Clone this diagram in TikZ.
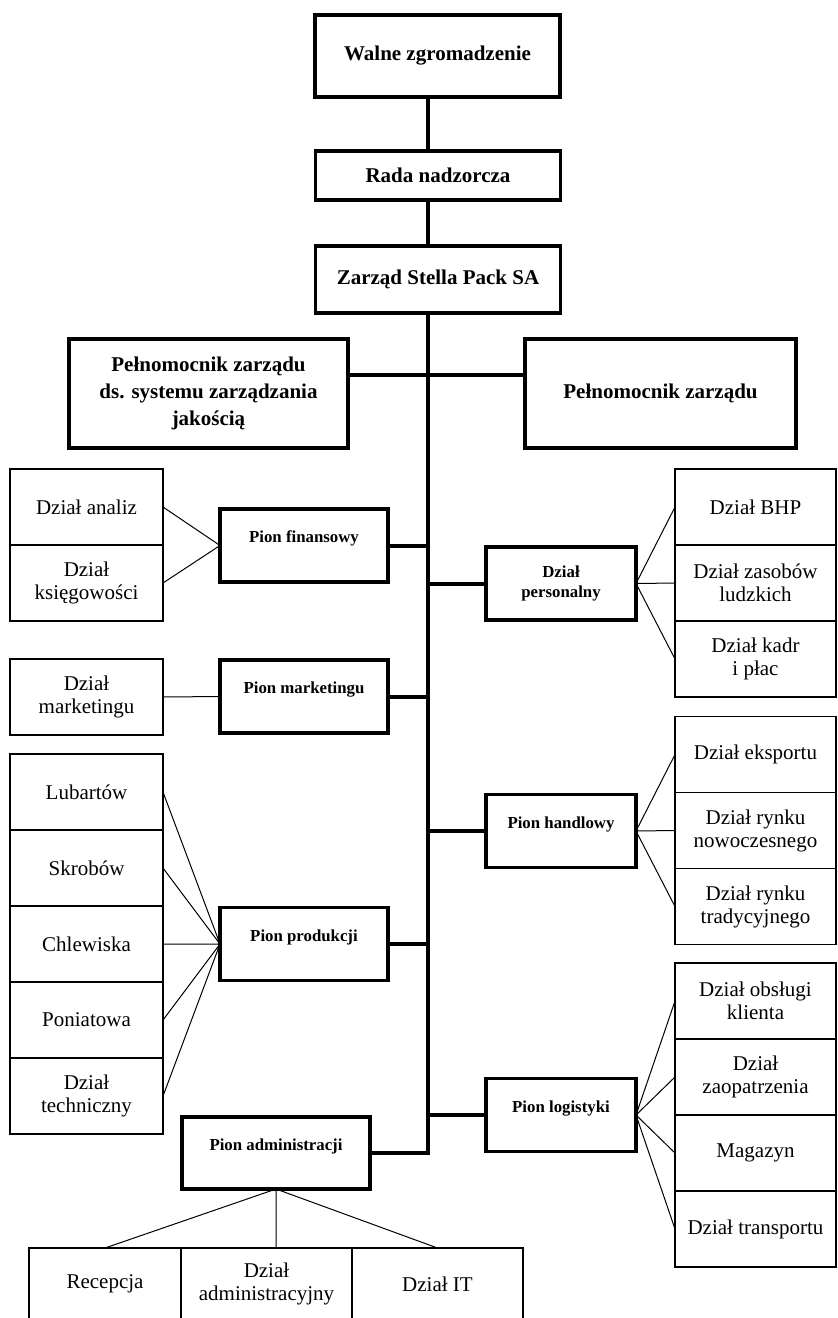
\documentclass[tikz,border=0pt]{standalone}
\usepackage{fontspec}
\setmainfont{Liberation Serif}
\usetikzlibrary{positioning}
\begin{document}
\begin{tikzpicture}[x=1pt,y=-1pt]
\tikzstyle{every node}=[draw,align=center,outer sep=0pt,inner sep=1pt];
\tikzstyle{boss}=[line width=3.8pt,minimum width=245pt,font=\bfseries\fontsize{21}{27}\selectfont];
\tikzstyle{pion}=[line width=3.8pt,minimum width=168pt,minimum height=73pt,font=\bfseries\fontsize{16.8}{20}\selectfont];
\tikzstyle{pionup}=[pion,text depth=17pt];
\tikzstyle{unit}=[line width=1.3pt,minimum width=153pt,minimum height=76pt,font=\fontsize{21}{23}\selectfont];
\tikzstyle{runit}=[unit,minimum width=161pt];
\tikzstyle{bunit}=[unit,minimum height=72pt];
\tikzstyle{spine}=[line width=4pt];
\tikzstyle{twig}=[line width=1pt];
\useasboundingbox (0,0) rectangle (838,1318);

\node[boss,minimum height=82pt] (walne) at (437.5,56) {Walne zgromadzenie};
\node[boss,minimum height=49pt] (rada) at (438,175.5) {Rada nadzorcza};
\node[boss,minimum height=67pt] (zarzad) at (438,279.5) {Zarząd Stella Pack SA};
\node[boss,minimum width=279pt,minimum height=109pt] (pelq) at (208.5,393.5) {Pełnomocnik zarządu\\ds. systemu zarządzania\\jakością};
\node[boss,minimum width=271pt,minimum height=109pt] (pel) at (660.5,393.5) {Pełnomocnik zarządu};

\node[pionup] (pfin) at (304,545.5) {Pion finansowy};
\node[pion,minimum width=150pt] (dpers) at (561,583.5) {Dział\\personalny};
\node[pionup] (pmark) at (304,696.5) {Pion marketingu};
\node[pionup,minimum width=150pt] (phand) at (561,831) {Pion handlowy};
\node[pionup] (pprod) at (304,944) {Pion produkcji};
\node[pionup,minimum width=150pt] (plog) at (561,1115) {Pion logistyki};
\node[pionup,minimum width=188pt,minimum height=72pt] (padm) at (276,1153) {Pion administracji};

\node[unit] (analiz) at (86.5,507) {Dział analiz};
\node[unit,below=0pt of analiz] (ksieg) {Dział\\księgowości};
\node[unit] (dmark) at (86.5,697) {Dział\\marketingu};
\node[unit] (lub) at (86.5,792) {Lubartów};
\node[unit,below=0pt of lub] (skr) {Skrobów};
\node[unit,below=0pt of skr] (chl) {Chlewiska};
\node[unit,below=0pt of chl] (pon) {Poniatowa};
\node[unit,below=0pt of pon] (tech) {Dział\\techniczny};

\node[runit] (bhp) at (755.5,507) {Dział BHP};
\node[runit,below=0pt of bhp] (zasob) {Dział zasobów\\ludzkich};
\node[runit,below=0pt of zasob] (kadr) {Dział kadr\\i płac};
\node[runit] (eksp) at (755.5,754.5) {Dział eksportu};
\node[runit,below=0pt of eksp] (nowo) {Dział rynku\\nowoczesnego};
\node[runit,below=0pt of nowo] (trad) {Dział rynku\\tradycyjnego};
\node[runit] (obsl) at (755.5,1001) {Dział obsługi\\klienta};
\node[runit,below=0pt of obsl] (zaop) {Dział\\zaopatrzenia};
\node[runit,below=0pt of zaop] (mag) {Magazyn};
\node[runit,below=0pt of mag] (trans) {Dział transportu};

\node[bunit,minimum width=152pt] (rec) at (105,1284) {Recepcja};
\node[bunit,minimum width=171pt,right=0pt of rec] (dadm) {Dział\\administracyjny};
\node[bunit,minimum width=171pt,right=0pt of dadm] (dit) {Dział IT};

\coordinate (trunk) at (428,375);
\draw[spine] (walne.south -| trunk) -- (rada.north -| trunk);
\draw[spine] (rada.south -| trunk) -- (zarzad.north -| trunk);
\draw[spine] (zarzad.south -| trunk) -- (padm.east -| trunk) -- (padm.east);
\draw[spine] (trunk -| pelq.east) -- (trunk -| pel.west);
\draw[spine] (pfin.east) -- (pfin.east -| trunk);
\draw[spine] (dpers.west) -- (dpers.west -| trunk);
\draw[spine] (pmark.east) -- (pmark.east -| trunk);
\draw[spine] (phand.west) -- (phand.west -| trunk);
\draw[spine] (pprod.east) -- (pprod.east -| trunk);
\draw[spine] (plog.west) -- (plog.west -| trunk);

\draw[twig] (pfin.west) -- (analiz.east) (pfin.west) -- (ksieg.east);
\draw[twig] (pmark.west) -- (dmark.east);
\draw[twig] (pprod.west) -- (lub.east) (pprod.west) -- (skr.east) (pprod.west) -- (chl.east)
  (pprod.west) -- (pon.east) (pprod.west) -- (tech.east);
\draw[twig] (dpers.east) -- (bhp.west) (dpers.east) -- (zasob.west) (dpers.east) -- (kadr.west);
\draw[twig] (phand.east) -- (eksp.west) (phand.east) -- (nowo.west) (phand.east) -- (trad.west);
\draw[twig] (plog.east) -- (obsl.west) (plog.east) -- (zaop.west) (plog.east) -- (mag.west)
  (plog.east) -- (trans.west);
\draw[twig] (padm.south) -- (rec.north) (padm.south) -- (padm.south |- dadm.north)
  (padm.south) -- (dit.north);
\end{tikzpicture}
\end{document}
